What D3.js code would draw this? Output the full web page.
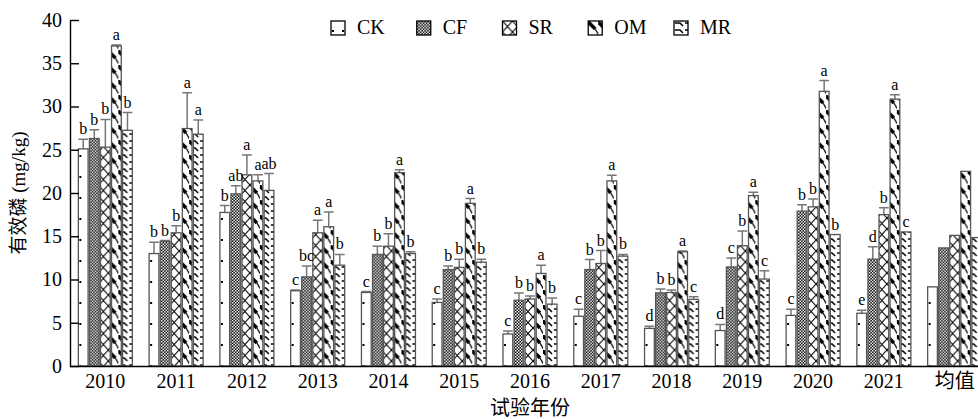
<!DOCTYPE html>
<html>
<head>
<meta charset="utf-8">
<script src="https://cdn.jsdelivr.net/npm/d3@7"></script>
<style>
  body { margin: 0; background: #fff; }
  svg { display: block; }
  text { font-family: "Liberation Serif", "Times New Roman", serif, "Noto Sans CJK SC"; }
</style>
</head>
<body>
<svg id="chart" width="978" height="419"></svg>
<script>
// ************************************
// Data
// ************************************

const years = ["2010", "2011", "2012", "2013", "2014", "2015", "2016", "2017", "2018", "2019", "2020", "2021", "均值"];
const treatments = ["CK", "CF", "SR", "OM", "MR"];

const ckValues = [25.1, 13.0, 17.75, 8.7, 8.5, 7.35, 3.7, 5.75, 4.35, 4.1, 5.85, 6.1, 9.15];
const cfValues = [26.3, 14.4, 19.9, 10.3, 12.9, 11.15, 7.6, 11.15, 8.45, 11.45, 17.9, 12.35, 13.65];
const srValues = [25.3, 15.4, 22.1, 15.4, 13.85, 11.4, 7.75, 11.85, 8.5, 13.9, 18.4, 17.5, 15.1];
const omValues = [37.0, 27.45, 21.4, 16.1, 22.35, 18.8, 10.7, 21.4, 13.2, 19.7, 31.75, 30.85, 22.5];
const mrValues = [27.25, 26.8, 20.3, 11.65, 13.0, 12.0, 7.15, 12.7, 7.7, 10.05, 15.2, 15.5, 14.85];

// standard errors (upper half only drawn), null = no error bar
const ckErrors = [1.1, 1.3, 0.8, 0.1, 0.1, 0.4, 0.35, 0.8, 0.25, 0.7, 0.7, 0.35, null];
const cfErrors = [1.0, 0.1, 0.95, 1.25, 0.95, 0.4, 0.85, 1.15, 0.45, 1.05, 0.75, 1.45, null];
const srErrors = [3.2, 0.8, 2.3, 1.45, 1.45, 0.95, 0.35, 1.5, 0.3, 1.7, 0.9, 0.8, null];
const omErrors = [0.1, 4.15, 0.7, 1.7, 0.35, 0.55, 0.95, 0.65, 0.1, 0.4, 1.25, 0.5, null];
const mrErrors = [2.05, 1.65, 1.95, 1.25, 0.2, 0.35, 0.7, 0.2, 0.3, 0.95, 0, 0, null];

// significance letters
const ckLetters = ["b", "b", "b", "c", "c", "c", "c", "c", "d", "d", "c", "e", ""];
const cfLetters = ["b", "b", "ab", "bc", "b", "b", "b", "b", "b", "c", "b", "d", ""];
const srLetters = ["b", "b", "a", "a", "b", "b", "b", "b", "b", "b", "b", "b", ""];
const omLetters = ["a", "a", "a", "a", "a", "a", "a", "a", "a", "a", "a", "a", ""];
const mrLetters = ["b", "a", "ab", "b", "b", "b", "b", "b", "c", "c", "b", "c", ""];

const yTicks = [0, 5, 10, 15, 20, 25, 30, 35, 40];

const valuesBy = { CK: ckValues, CF: cfValues, SR: srValues, OM: omValues, MR: mrValues };
const errorsBy = { CK: ckErrors, CF: cfErrors, SR: srErrors, OM: omErrors, MR: mrErrors };
const lettersBy = { CK: ckLetters, CF: cfLetters, SR: srLetters, OM: omLetters, MR: mrLetters };

// flat table for the bars
const rows = [];
years.forEach((yr, i) => {
    treatments.forEach(t => {
        rows.push({ year: yr, key: t, value: valuesBy[t][i], err: errorsBy[t][i], letter: lettersBy[t][i] });
    });
});

const serif = "'Liberation Serif', 'Times New Roman', serif, 'Noto Sans CJK SC'";

// ************************************
// Layout
// ************************************

const svg = d3.select("#chart");

const margin = { top: 20, left: 70 };
const plotHeight = 346;
const plotWidth = 920;   // runs past the right edge, like the original

const g = svg.append("g").attr("transform", `translate(${margin.left},${margin.top})`);

const x0 = d3.scaleBand().domain(years).range([0, plotWidth]).paddingInner(0.237).paddingOuter(0.118);
const x1 = d3.scaleBand().domain(treatments).range([0, x0.bandwidth()]).paddingInner(0.12);
const y = d3.scaleLinear().domain([0, 40]).range([plotHeight, 0]);

// ************************************
// Fill patterns
// ************************************

const defs = svg.append("defs");

// CK: sparse dots
const pCK = defs.append("pattern").attr("id", "p-CK").attr("patternUnits", "userSpaceOnUse")
    .attr("width", 10).attr("height", 21);
pCK.append("rect").attr("width", 10).attr("height", 21).attr("fill", "#fff");
pCK.append("rect").attr("x", 1).attr("y", 9).attr("width", 2).attr("height", 2).attr("fill", "#000");

// CF: fine checkerboard
const pCF = defs.append("pattern").attr("id", "p-CF").attr("patternUnits", "userSpaceOnUse")
    .attr("width", 3).attr("height", 3);
pCF.append("rect").attr("width", 3).attr("height", 3).attr("fill", "#000");
pCF.append("rect").attr("width", 1.5).attr("height", 1.5).attr("fill", "#fff");
pCF.append("rect").attr("x", 1.5).attr("y", 1.5).attr("width", 1.5).attr("height", 1.5).attr("fill", "#fff");

// SR: diagonal cross hatch
const pSR = defs.append("pattern").attr("id", "p-SR").attr("patternUnits", "userSpaceOnUse")
    .attr("width", 10).attr("height", 11);
pSR.append("rect").attr("width", 10).attr("height", 11).attr("fill", "#fff");
pSR.append("path").attr("d", "M0,0L10,11M10,0L0,11").attr("stroke", "#000").attr("stroke-width", 1.1);

// OM: heavy diagonal dashes
const pOM = defs.append("pattern").attr("id", "p-OM").attr("patternUnits", "userSpaceOnUse")
    .attr("width", 10).attr("height", 15);
pOM.append("rect").attr("width", 10).attr("height", 15).attr("fill", "#fff");
pOM.append("path").attr("d", "M-1,0L7,8").attr("stroke", "#000").attr("stroke-width", 3.6);
pOM.append("path").attr("d", "M7,8L11,15").attr("stroke", "#000").attr("stroke-width", 1.2);

// MR: small staggered dashes
const pMR = defs.append("pattern").attr("id", "p-MR").attr("patternUnits", "userSpaceOnUse")
    .attr("width", 10).attr("height", 7);
pMR.append("rect").attr("width", 10).attr("height", 7).attr("fill", "#fff");
pMR.append("path").attr("d", "M1,2L6,2L9,5").attr("stroke", "#000").attr("stroke-width", 1.5).attr("fill", "none");

// ************************************
// Bars, error bars and letters
// ************************************

const groups = g.selectAll(".year")
    .data(years)
    .enter()
    .append("g")
    .attr("class", "year")
    .attr("transform", d => `translate(${x0(d)},0)`);

const groupRows = d => rows.filter(r => r.year === d);

// error bars (upper half)
groups.selectAll(".err")
    .data(d => groupRows(d).filter(r => r.err !== null && r.err > 0))
    .enter()
    .append("path")
    .attr("class", "err")
    .attr("d", d => {
        const cx = x1(d.key) + x1.bandwidth() / 2;
        const top = y(d.value + d.err);
        return `M${cx},${y(d.value)}V${top}M${x1(d.key)},${top}H${x1(d.key) + x1.bandwidth()}`;
    })
    .attr("fill", "none")
    .attr("stroke", "#777")
    .attr("stroke-width", 1.5);

groups.selectAll(".bar")
    .data(d => groupRows(d))
    .enter()
    .append("rect")
    .attr("class", "bar")
    .attr("x", d => x1(d.key))
    .attr("y", d => y(d.value))
    .attr("width", x1.bandwidth())
    .attr("height", d => plotHeight - y(d.value))
    .attr("fill", d => `url(#p-${d.key})`)
    .attr("stroke", "#555")
    .attr("stroke-width", 1.3);

groups.selectAll(".letter")
    .data(d => groupRows(d).filter(r => r.letter))
    .enter()
    .append("text")
    .attr("class", "letter")
    .attr("x", d => x1(d.key) + x1.bandwidth() / 2)
    .attr("y", d => y(d.value + (d.err || 0)) - 5)
    .attr("text-anchor", "middle")
    .style("font-family", serif)
    .style("font-size", "16px")
    .text(d => d.letter);

// ************************************
// Axes
// ************************************

const yAxis = g.append("g")
    .attr("class", "y axis")
    .call(d3.axisLeft(y).tickValues(yTicks).tickSizeInner(-9).tickSizeOuter(0).tickPadding(8));

const xAxis = g.append("g")
    .attr("class", "x axis")
    .attr("transform", `translate(0,${plotHeight})`)
    .call(d3.axisBottom(x0).tickSize(0).tickPadding(8));

g.selectAll(".axis").attr("font-family", null);
g.selectAll(".axis path, .axis line").attr("stroke", "#000").attr("stroke-width", 1.4);
g.selectAll(".axis text").style("font-size", "20px").attr("fill", "#000")
    .style("font-family", serif);

// axis titles
svg.append("text")
    .attr("transform", `translate(18,${margin.top + plotHeight / 2}) rotate(-90)`)
    .attr("text-anchor", "middle")
    .attr("dy", "0.35em")
    .style("font-family", serif)
    .style("font-size", "19px")
    .text("有效磷 (mg/kg)");

svg.append("text")
    .attr("x", margin.left + 460)
    .attr("y", 415)
    .attr("text-anchor", "middle")
    .style("font-family", serif)
    .style("font-size", "20px")
    .text("试验年份");

// ************************************
// Legend
// ************************************

const lx = d3.scalePoint().domain(treatments).range([331, 674]);

const legend = svg.append("g").attr("class", "legend")
    .selectAll("g")
    .data(treatments)
    .enter()
    .append("g")
    .attr("transform", d => `translate(${lx(d)},21)`);

legend.append("rect")
    .attr("width", 14)
    .attr("height", 14)
    .attr("fill", d => `url(#p-${d})`)
    .attr("stroke", "#000")
    .attr("stroke-width", 1.3);

legend.append("text")
    .attr("x", 26)
    .attr("y", 13)
    .style("font-family", serif)
    .style("font-size", "20px")
    .text(d => d);
</script>
</body>
</html>
